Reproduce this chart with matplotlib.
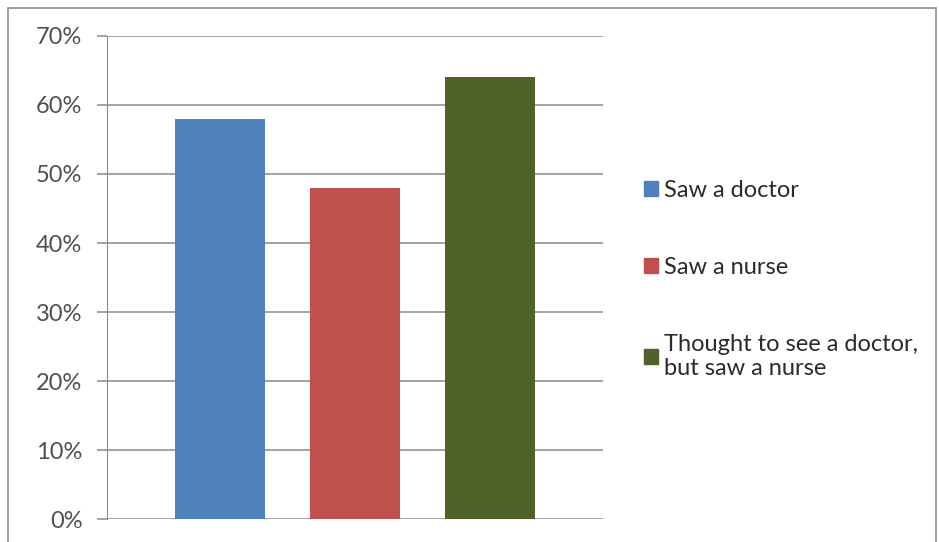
import numpy as np
import matplotlib.pyplot as plt
from matplotlib.patches import Patch, Rectangle
from matplotlib.ticker import PercentFormatter

# dades
series = ['Saw a doctor', 'Saw a nurse', 'Thought to see a doctor,\nbut saw a nurse']
valors = [58, 48, 64]
colors = ['#4F81BD', '#C0504D', '#4F6228']
y_ticks = [0, 10, 20, 30, 40, 50, 60, 70]

plt.rcParams['font.family'] = ['Lato', 'DejaVu Sans']

fig = plt.figure(figsize=(9.39, 5.42), dpi=100)
ax = fig.add_axes([0.114, 0.0424, 0.528, 0.8912])

# marc exterior del gràfic
fig.patches.append(Rectangle((8/939, -0.05), 928/939, 1.05 - 8/542, transform=fig.transFigure,
                             fill=False, edgecolor='#8c8c8c', linewidth=1.2))

x = np.arange(len(valors)) - 1
ax.bar(x, valors, width=0.667, color=colors, zorder=3)

ax.set_xlim(-1.837, 1.837)
ax.set_ylim(0, 70)
ax.set_yticks(y_ticks)
ax.yaxis.set_major_formatter(PercentFormatter(decimals=0))
ax.set_xticks([])
ax.grid(axis='y', color='#8a8a8a', linewidth=1.1, zorder=0)
for s in ['top', 'right', 'bottom']:
    ax.spines[s].set_visible(False)
ax.spines['left'].set_color('#8a8a8a')
ax.tick_params(axis='y', colors='#8a8a8a', length=7.2, width=1.1, labelsize=17,
               labelcolor='#505050', pad=10.5)

handles = [Patch(color=c) for c in colors]
fig.legend(handles, series, loc='upper left', bbox_to_anchor=(0.663, 0.707),
           frameon=False, fontsize=17, handlelength=0.6, handleheight=0.6,
           handletextpad=0.25, labelspacing=2.37, labelcolor='#2b2b2b')

fig.savefig('out.png', dpi=100)
